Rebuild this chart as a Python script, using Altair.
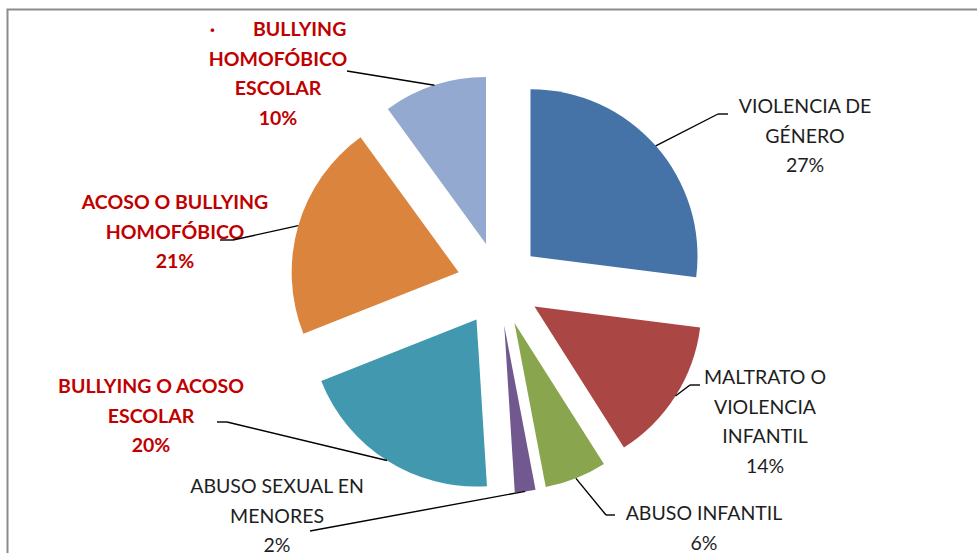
import altair as alt
import pandas as pd

# ---------------- data ----------------
categories = [
    "VIOLENCIA DE GÉNERO",
    "MALTRATO O VIOLENCIA INFANTIL",
    "ABUSO INFANTIL",
    "ABUSO SEXUAL EN MENORES",
    "BULLYING O ACOSO ESCOLAR",
    "ACOSO O BULLYING HOMOFÓBICO",
    "BULLYING HOMOFÓBICO ESCOLAR",
]
values = [27, 14, 6, 2, 20, 21, 10]
label_lines = [
    "VIOLENCIA DE|GÉNERO",
    "MALTRATO O|VIOLENCIA|INFANTIL",
    "ABUSO INFANTIL",
    "ABUSO SEXUAL EN|MENORES",
    "BULLYING O ACOSO|ESCOLAR",
    "ACOSO O BULLYING|HOMOFÓBICO",
    "·" + "\u00a0" * 8 + "BULLYING|HOMOFÓBICO|ESCOLAR",
]
highlight = [False, False, False, False, True, True, True]

# ---------------- style / layout ----------------
colors = ["#4572A7", "#AA4643", "#89A54E", "#71588F", "#4198AF", "#DB843D", "#93A9CF"]
CX, CY = 499, 284      # pie centre (px)
R = 167                # pie radius (px)
EXPLODE = 42           # slice explosion (px)
FONT = "Lato, sans-serif"
LH = 29.5

# first-line centre of each label block
label_center = [(805, 107), (765, 378), (704, 514), (277, 487), (151, 387), (175, 203), (278, 30)]
leader_elbow = [(718, 114), (690, 385), (606, 515), (310, 531), (227, 422), (233, 240), (347, 71)]
leader_end = [(728, 114), (700, 385), (615, 515), (310, 531), (217, 422), (220, 240), (347, 71)]

df = pd.DataFrame({
    "order": list(range(len(categories))),
    "cat": categories,
    "value": values,
    "lines": label_lines,
    "hi": highlight,
    "lx": [p[0] for p in label_center],
    "ly": [p[1] for p in label_center],
    "bx": [p[0] for p in leader_elbow],
    "by": [p[1] for p in leader_elbow],
    "ex": [p[0] for p in leader_end],
    "ey": [p[1] for p in leader_end],
})

base = (
    alt.Chart(df)
    .transform_joinaggregate(total="sum(value)")
    .transform_window(cum="sum(value)", sort=[alt.SortField(field="order", order="ascending")], frame=[None, 0])
    .transform_calculate(
        t0="(datum.cum - datum.value) / datum.total * 2 * PI",
        t1="datum.cum / datum.total * 2 * PI",
    )
    .transform_calculate(mid="(datum.t0 + datum.t1) / 2")
    .transform_calculate(
        cx=f"{CX} + {EXPLODE} * sin(datum.mid)",
        cy=f"{CY} - {EXPLODE} * cos(datum.mid)",
    )
    .transform_calculate(
        ax=f"datum.cx + {R} * sin(datum.mid)",
        ay=f"datum.cy - {R} * cos(datum.mid)",
        txt="split(datum.lines + '|' + datum.value + '%', '|')",
    )
)

X = lambda f: alt.X(f"{f}:Q", scale=None, axis=None)
Y = lambda f: alt.Y(f"{f}:Q", scale=None, axis=None)

frame = alt.Chart(pd.DataFrame({"a": [0]})).mark_rect(
    fillOpacity=0, stroke="#8c8c8c", strokeWidth=2
).encode(x=alt.value(7.5), y=alt.value(9.5), x2=alt.value(1200), y2=alt.value(800))

pie = base.mark_arc(radius=R).encode(
    x=X("cx"),
    y=Y("cy"),
    theta=alt.Theta("t0:Q", scale=None, stack=None),
    theta2="t1:Q",
    color=alt.Color("cat:N", scale=alt.Scale(domain=categories, range=colors), legend=None),
)

lead1 = base.mark_rule(color="#000000", strokeWidth=1.4).encode(
    x=X("ax"), y=Y("ay"), x2="bx:Q", y2="by:Q"
)
lead2 = base.mark_rule(color="#000000", strokeWidth=1.4).encode(
    x=X("bx"), y=Y("by"), x2="ex:Q", y2="ey:Q"
)

txt_black = base.transform_filter("!datum.hi").mark_text(
    font=FONT, fontSize=19.5, color="#1e1e1e", lineHeight=LH, align="center", baseline="middle"
).encode(x=X("lx"), y=Y("ly"), text="txt:N")

txt_red = base.transform_filter("datum.hi").mark_text(
    font=FONT, fontSize=19.5, fontWeight="bold", color="#C00000", lineHeight=LH,
    align="center", baseline="middle"
).encode(x=X("lx"), y=Y("ly"), text="txt:N")

chart = (
    alt.layer(frame, pie, txt_black, txt_red, lead1, lead2)
    .properties(width=977, height=553, padding=0, autosize="none")
    .configure_view(stroke=None)
)

chart.save("out.html", embed_options={"renderer": "svg", "actions": False})
